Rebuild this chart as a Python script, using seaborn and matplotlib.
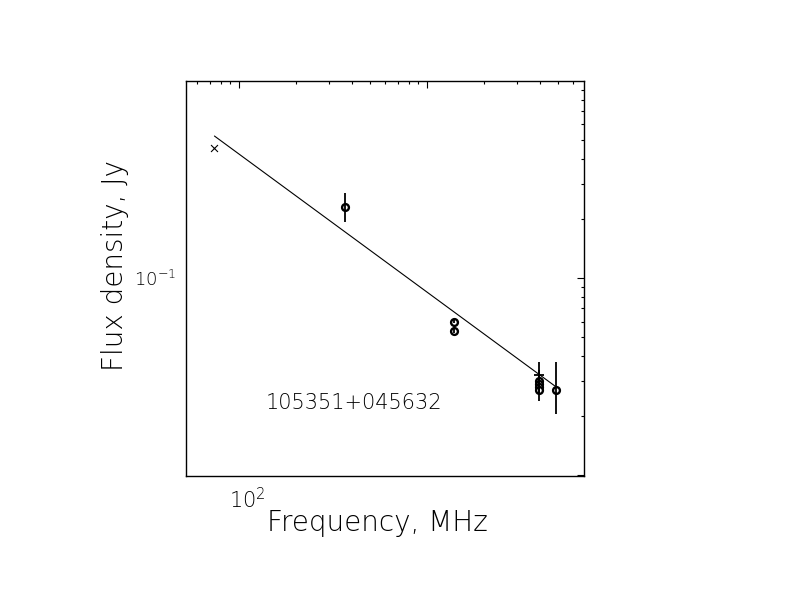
import numpy as np
import pandas as pd
import matplotlib
matplotlib.use("Agg")
import matplotlib.pyplot as plt
import matplotlib.transforms as mtransforms
from matplotlib.ticker import FixedLocator, LogLocator, FuncFormatter, NullFormatter
import seaborn as sns

# measured points (MHz, Jy)
freq = [74, 365, 1400, 1400, 3950, 3950, 3950, 3950, 3950, 4850]
flux = [0.458, 0.229, 0.0598, 0.0538, 0.0322, 0.0300, 0.0290, 0.0280, 0.0270, 0.0270]
err_lo = [0.0, 0.036, 0.001, 0.001, 0.0086, 0.001, 0.001, 0.001, 0.001, 0.0066]
err_hi = [0.0, 0.042, 0.001, 0.001, 0.0054, 0.001, 0.001, 0.001, 0.001, 0.0106]
kind = ['x', 'o', 'o', 'o', '+', 'o', 'o', 'o', 'o', 'o']

# power-law fit
fit_alpha = -0.70
fit_s1000 = 0.0847
fit_freq = [74, 4850]

source_name = "105351+045632"

df = pd.DataFrame({'freq': freq, 'flux': flux, 'lo': err_lo, 'hi': err_hi, 'kind': kind})
fit = pd.DataFrame({'freq': fit_freq})
fit['flux'] = fit_s1000 * (fit['freq'] / 1000.0) ** fit_alpha

sns.set_style("white")
plt.rcParams['font.family'] = ['DejaVu Sans']
plt.rcParams['mathtext.default'] = 'regular'
plt.rcParams['text.color'] = 'black'
plt.rcParams['axes.labelcolor'] = 'black'
plt.rcParams['xtick.color'] = 'black'
plt.rcParams['ytick.color'] = 'black'

fig = plt.figure(figsize=(7.92, 6.12), dpi=100)
ax = fig.add_axes([0.2348, 0.2227, 0.5025, 0.6443])
ax.set_xscale('log')
ax.set_yscale('log')

sns.lineplot(data=fit, x='freq', y='flux', ax=ax, color='black', linewidth=0.8)

for k, sub in df.groupby('kind'):
    ax.errorbar(sub['freq'], sub['flux'], yerr=[sub['lo'], sub['hi']], fmt='none',
                ecolor='black', elinewidth=1.3, capsize=0)

sns.scatterplot(data=df[df['kind'] == 'o'], x='freq', y='flux', ax=ax, marker='o',
                s=24, facecolor='white', edgecolor='black', linewidth=1.7)
sns.scatterplot(data=df[df['kind'] == 'x'], x='freq', y='flux', ax=ax, marker='x',
                s=25, color='black', linewidth=0.8)
sns.scatterplot(data=df[df['kind'] == '+'], x='freq', y='flux', ax=ax, marker='+',
                s=60, color='black', linewidth=1.3)

ax.set_xlim(52.2, 6840)
ax.set_ylim(0.00992, 0.992)

ax.xaxis.set_major_locator(FixedLocator([100, 1000]))
ax.xaxis.set_minor_locator(LogLocator(base=10, subs=np.arange(2, 10)))
ax.yaxis.set_major_locator(FixedLocator([0.01, 0.1, 1.0]))
ax.yaxis.set_minor_locator(LogLocator(base=10, subs=np.arange(2, 10)))
ax.xaxis.set_major_formatter(FuncFormatter(lambda v, p: '$10^{2}$' if abs(v - 100) < 1 else ''))
ax.yaxis.set_major_formatter(FuncFormatter(lambda v, p: '$10^{-1}$' if abs(v - 0.1) < 1e-6 else ''))
ax.xaxis.set_minor_formatter(NullFormatter())
ax.yaxis.set_minor_formatter(NullFormatter())

ax.tick_params(which='both', direction='in', top=True, right=True, color='black', width=0.8)
ax.tick_params(which='major', length=5)
ax.tick_params(which='minor', length=2.5)
ax.tick_params(axis='x', which='major', pad=8, labelsize=15)
ax.tick_params(axis='y', which='major', pad=7, labelsize=13)

# shift x tick labels a little to the right, as in the reference
shift = mtransforms.ScaledTranslation(8 / 100, 0, fig.dpi_scale_trans)
for lab in ax.get_xticklabels():
    lab.set_transform(lab.get_transform() + shift)
for lab in ax.get_xticklabels() + ax.get_yticklabels():
    lab.set_fontweight('light')

for sp in ax.spines.values():
    sp.set_color('black')
    sp.set_linewidth(1.0)

ax.set_xlabel('Frequency, MHz', fontsize=20, fontweight='light')
ax.set_ylabel('Flux density, Jy', fontsize=20, fontweight='light')
ax.xaxis.set_label_coords(0.48, -0.12)
ax.xaxis.label.set_va('center')
ax.yaxis.set_label_coords(-0.178, 0.532)
ax.yaxis.label.set_va('center')

ax.text(0.201, 0.185, source_name, transform=ax.transAxes, ha='left', va='center',
        fontsize=15, fontweight='light')

fig.savefig('out.png', dpi=100, facecolor='white')
